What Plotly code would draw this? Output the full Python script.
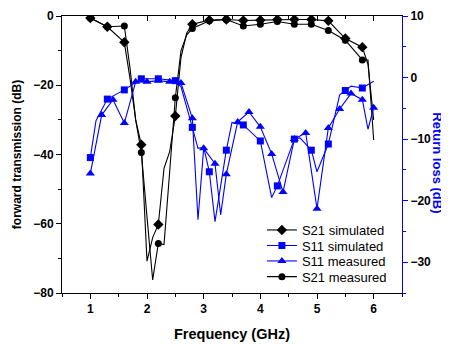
import plotly.graph_objects as go

# ---- data ----
f_s21_sim = [1.0, 1.3, 1.6, 1.7, 1.8, 1.9, 2.0, 2.1, 2.2, 2.3, 2.4, 2.5, 2.6, 2.7, 2.8,
             3.1, 3.4, 3.7, 4.0, 4.3, 4.6, 4.9, 5.2, 5.5, 5.8, 5.9, 6.0]
s21_sim = [-0.6, -3.1, -7.6, -18, -30, -37.2, -70.8, -64, -60.2, -44, -39.2, -28.9, -12, -5, -2.4,
           -1.2, -1.0, -1.3, -1.2, -1.0, -1.0, -1.0, -1.4, -6.5, -9.0, -14, -30]

f_s21_meas = [1.0, 1.3, 1.6, 1.7, 1.8, 1.9, 2.0, 2.1, 2.2, 2.3, 2.4, 2.5, 2.6, 2.7, 2.8,
              3.1, 3.4, 3.7, 4.0, 4.3, 4.6, 4.9, 5.2, 5.5, 5.8, 5.9, 6.0]
s21_meas = [-0.6, -3.1, -2.9, -15, -30, -39.4, -58, -76.2, -65.7, -66.0, -45, -23.6, -10, -5.5, -3.6,
            -1.4, -1.0, -2.9, -2.4, -1.6, -2.4, -2.4, -4.2, -7.0, -12.7, -12.7, -35.8]

f_s11_sim = [1.0, 1.1, 1.3, 1.6, 1.9, 2.2, 2.5, 2.6, 2.8, 2.9, 3.0, 3.1, 3.2, 3.4, 3.5, 3.7,
             4.0, 4.2, 4.3, 4.6, 4.7, 4.9, 5.0, 5.2, 5.4, 5.5, 5.6, 5.8, 6.0]
s11_sim = [-13, -7, -3.5, -2.0, -0.2, -0.2, -0.5, -1.5, -8.1, -11.5, -11.3, -15.3, -23.4, -11.8, -7.3, -7.7,
           -10.3, -19.5, -17.6, -10.0, -9.8, -11.8, -15.3, -10.8, -2.8, -2.1, -1.4, -1.7, -0.6]

f_s11_meas = [1.0, 1.2, 1.4, 1.6, 1.8, 2.0, 2.2, 2.4, 2.6, 2.8, 2.9, 3.0, 3.2, 3.3, 3.4, 3.6,
              3.8, 4.0, 4.2, 4.4, 4.6, 4.8, 5.0, 5.2, 5.4, 5.6, 5.8, 5.9, 6.0]
s11_meas = [-15.6, -6.1, -3.6, -7.4, -0.7, -0.7, -0.5, -0.7, -0.9, -6.6, -23.1, -11.5, -14.0, -22.3, -15.7, -7.2,
            -5.6, -8.0, -12.4, -18.6, -10.0, -9.0, -21.3, -8.2, -5.1, -2.6, -3.6, -8.4, -4.9]

x_ticks = [1, 2, 3, 4, 5, 6]
y1_ticks = [0, -20, -40, -60, -80]
y2_ticks = [10, 0, -10, -20, -30]

BLUE = "#0000ff"
BLACK = "#000000"
FONT = "Liberation Sans, Arial, sans-serif"


def marked(xs, ys, step):
    mx, my = [], []
    for x, y in zip(xs, ys):
        k = (x - 1.0) / step
        if abs(k - round(k)) < 1e-6:
            mx.append(x)
            my.append(y)
    return mx, my


series = [
    ("S21 simulated", f_s21_sim, s21_sim, BLACK, "diamond", 8, "y", 0.3),
    ("S11 simulated", f_s11_sim, s11_sim, BLUE, "square", 7, "y2", 0.3),
    ("S11 measured", f_s11_meas, s11_meas, BLUE, "triangle-up", 8, "y2", 0.2),
    ("S21 measured", f_s21_meas, s21_meas, BLACK, "circle", 7, "y", 0.3),
]

fig = go.Figure()
for name, xs, ys, col, sym, sz, yax, step in series:
    fig.add_trace(go.Scatter(x=xs, y=ys, mode="lines", yaxis=yax,
                             line=dict(color=col, width=1.1), showlegend=False, hoverinfo="skip"))
    mx, my = marked(xs, ys, step)
    fig.add_trace(go.Scatter(x=mx, y=my, mode="markers", yaxis=yax,
                             marker=dict(color=col, symbol=sym, size=sz), showlegend=False))

legend_names = ["legend", "legend2", "legend3", "legend4"]
legend_tops = [0.2816, 0.2256, 0.1697, 0.1130]
for (name, xs, ys, col, sym, sz, yax, step), lg in zip(series, legend_names):
    fig.add_trace(go.Scatter(x=[None], y=[None], mode="lines+markers", name=name, yaxis=yax,
                             legend=lg, showlegend=True,
                             line=dict(color=col, width=1.1),
                             marker=dict(color=col, symbol=sym, size=sz)))

# top axis carrier
fig.add_trace(go.Scatter(x=[None], y=[None], xaxis="x2", yaxis="y", showlegend=False))

tickfont = dict(family=FONT, size=12, color=BLACK, weight="bold")
layout_legends = {}
for lg, top in zip(legend_names, legend_tops):
    layout_legends[lg] = dict(x=0.588, y=top, xanchor="left", yanchor="top",
                              bgcolor="rgba(0,0,0,0)",
                              font=dict(family=FONT, size=13, color=BLACK))

# page body has an 8px margin: figure origin sits at (8, 8)
fig.update_layout(
    width=441, height=336,
    margin=dict(l=54, r=47, t=8, b=51, autoexpand=False),
    paper_bgcolor="white", plot_bgcolor="white",
    font=dict(family=FONT, size=12, color=BLACK),
    xaxis=dict(range=[0.5, 6.5], tickvals=x_ticks, ticks="outside", ticklen=5, tickwidth=1,
               tickcolor=BLACK, showline=True, linecolor=BLACK, linewidth=1, showgrid=False,
               zeroline=False, tickfont=tickfont, automargin=False,
               minor=dict(dtick=0.5, tick0=0.5, ticks="outside", ticklen=3, tickcolor=BLACK, showgrid=False),
               title=dict(text="<b>Frequency (GHz)</b>", font=dict(family=FONT, size=14.5), standoff=13)),
    xaxis2=dict(range=[0.5, 6.5], overlaying="x", side="top", anchor="y", tickvals=x_ticks,
                ticks="inside", ticklen=5, tickcolor=BLACK, showline=True, linecolor=BLACK,
                linewidth=1, showticklabels=False, showgrid=False, zeroline=False, automargin=False,
                minor=dict(dtick=0.5, tick0=0.5, ticks="inside", ticklen=3, tickcolor=BLACK, showgrid=False)),
    yaxis=dict(range=[-80, 0], tickvals=y1_ticks, ticks="outside", ticklen=5, tickcolor=BLACK,
               showline=True, linecolor=BLACK, linewidth=1, showgrid=False, zeroline=False,
               tickfont=tickfont, automargin=False,
               minor=dict(dtick=10, tick0=0, ticks="outside", ticklen=3, tickcolor=BLACK, showgrid=False),
               title=dict(text="<b>forward transmission (dB)</b>", font=dict(family=FONT, size=12), standoff=9)),
    yaxis2=dict(range=[-35, 10], tickvals=y2_ticks, overlaying="y", side="right", anchor="x",
                ticks="outside", ticklen=5, tickcolor=BLUE, showline=True, linecolor=BLUE,
                linewidth=1, showgrid=False, zeroline=False, tickfont=tickfont, automargin=False,
                minor=dict(dtick=5, tick0=0, ticks="outside", ticklen=3, tickcolor=BLUE, showgrid=False)),
    annotations=[dict(text="<b>Return loss (dB)</b>", xref="paper", yref="paper",
                      x=1.133, y=0.469,
                      showarrow=False, textangle=90,
                      font=dict(family=FONT, size=13, color=BLUE))],
    **layout_legends,
)

fig.write_html("out.html")
